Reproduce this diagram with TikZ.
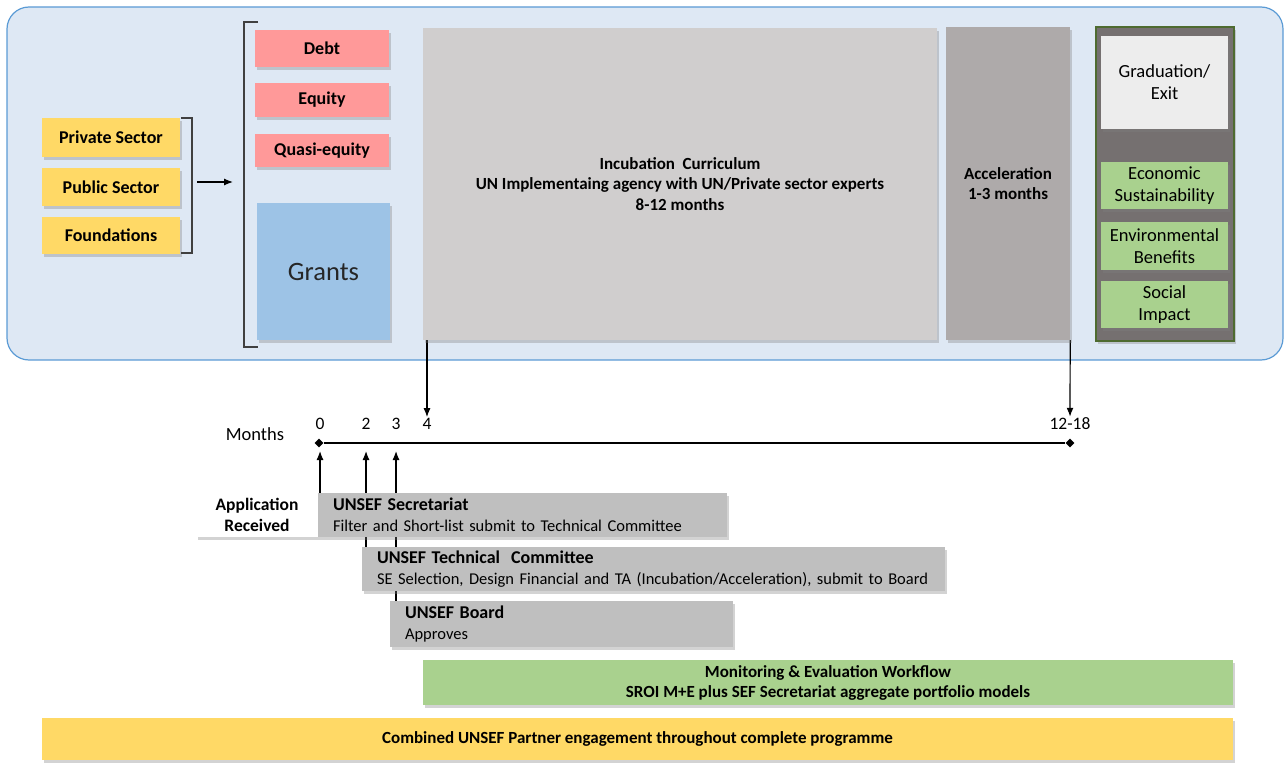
\documentclass[tikz,border=0pt]{standalone}
\usepackage{fontspec}
\setmainfont{Carlito}
\usetikzlibrary{arrows.meta}
\usetikzlibrary{shapes}
\usetikzlibrary{shadows}
\usetikzlibrary{calc}

\definecolor{panelblue}{HTML}{DEE8F4}
\definecolor{panelline}{HTML}{5B9BD5}
\definecolor{srcyellow}{HTML}{FFD966}
\definecolor{fundpink}{HTML}{FF9999}
\definecolor{grantblue}{HTML}{9DC3E6}
\definecolor{incgray}{HTML}{D0CECE}
\definecolor{accgray}{HTML}{AEAAAA}
\definecolor{outgray}{HTML}{757070}
\definecolor{outline}{HTML}{4E6B30}
\definecolor{gradgray}{HTML}{EDEDED}
\definecolor{impgreen}{HTML}{A9D18E}
\definecolor{stepgray}{HTML}{BFBFBF}

\pgfdeclarelayer{panel}
\pgfdeclarelayer{links}
\pgfsetlayers{panel,links,main}

\begin{document}
\begin{tikzpicture}[x=1pt, y=-1pt,
        box_style/.style={draw=none, inner sep=2pt, align=center,
            drop shadow={shadow xshift=2pt, shadow yshift=-3pt, opacity=0.35}},
        source_style/.style={box_style, fill=srcyellow, minimum width=138pt, font=\fontsize{18}{20}\selectfont\bfseries},
        fund_style/.style={box_style, fill=fundpink, minimum width=134pt, font=\fontsize{18}{20}\selectfont\bfseries},
        stage_style/.style={box_style, font=\fontsize{17}{20.5}\selectfont\bfseries},
        outcome_style/.style={box_style, fill=impgreen, minimum width=127pt, minimum height=47pt, font=\fontsize{18.5}{22}\selectfont},
        step_style/.style={box_style, fill=stepgray, align=left, inner xsep=15pt, minimum height=44pt, font=\fontsize{16.5}{21}\selectfont},
        band_style/.style={box_style, font=\fontsize{17}{20}\selectfont\bfseries},
        tick_style/.style={font=\fontsize{17.5}{19}\selectfont, inner sep=1pt},
        mark_style/.style={diamond, fill=black, inner sep=0pt, minimum size=9pt},
        bracket_style/.style={draw=black!75, line width=1.4pt},
        arrow_style/.style={draw=black, line width=1.2pt, -{Latex[length=9pt,width=7pt]}}]

        \useasboundingbox (0,0) rectangle (1285,765);

        % top panel
        \begin{pgfonlayer}{panel}
        \draw [fill=panelblue, draw=panelline, line width=1.2pt, rounded corners=22pt] (7,7) rectangle (1283,360);
        \end{pgfonlayer}

        % sources of capital
        \node [source_style, minimum height=39pt](private) at (111,137.5) {Private Sector};
        \node [source_style, minimum height=38pt](public) at (111,187) {Public Sector};
        \node [source_style, minimum height=37pt](found) at (111,235.5) {Foundations};
        \draw [bracket_style] (181,118) -- (192,118) -- (192,253) -- (181,253);
        \coordinate (src) at (197,182);
        \coordinate (dst) at (233,182);
        \draw [arrow_style] (src) -- (dst);

        % instruments
        \draw [bracket_style] (258,22) -- (244,22) -- (244,347) -- (258,347);
        \node [fund_style, minimum height=37pt](debt) at (322,48.5) {Debt};
        \node [fund_style, minimum height=34pt](equity) at (322,100) {Equity};
        \node [fund_style, minimum height=33pt](quasi) at (322,150.5) {Quasi-equity};
        \node [box_style, fill=grantblue, minimum width=133pt, minimum height=137pt, font=\fontsize{26.5}{30}\selectfont, text=black!85](grants) at (323.5,271.5) {Grants};

        % programme stages
        \node [stage_style, fill=incgray, minimum width=514pt, minimum height=312pt](inc) at (680,184)
            {Incubation\ \ Curriculum\\UN Implementaing\ agency with UN/Private sector experts\\8-12 months};
        \node [stage_style, fill=accgray, minimum width=124pt, minimum height=313pt](acc) at (1008,183.5)
            {Acceleration\\1-3 months};

        % outcomes
        \node [box_style, fill=outgray, draw=outline, line width=1.5pt, minimum width=138pt, minimum height=314pt](outc) at (1165,184) {};
        \node [outcome_style, fill=gradgray, minimum height=93pt](grad) at (1164.5,82.5) {Graduation/\\Exit};
        \node [outcome_style](econ) at (1164.5,185.5) {Economic\\Sustainability};
        \node [outcome_style, minimum height=48pt](env) at (1164.5,246) {Environmental\\Benefits};
        \node [outcome_style](social) at (1164.5,304.5) {Social\\Impact};

        % timeline
        \node [font=\fontsize{18.5}{20}\selectfont](months) at (255,434) {Months};
        \node [tick_style](m0) at (320,424) {0};
        \node [tick_style](m2) at (366,424) {2};
        \node [tick_style](m3) at (396,424) {3};
        \node [tick_style](m4) at (427,424) {4};
        \node [tick_style](m12) at (1070,424) {12-18};
        \node [mark_style](t0) at (319,443) {};
        \node [mark_style](t1) at (1070,443) {};
        \draw [line width=2pt] (t0) -- (t1);

        % application steps
        \node [box_style, fill=white, minimum width=122pt, minimum height=44pt, font=\fontsize{17.5}{21}\selectfont\bfseries](app) at (257,515) {Application\\Received};
        \node [step_style, text width=379pt](sec) at (522.5,515)
            {{\fontsize{18}{21}\selectfont\bfseries UNSEF Secretariat}\\Filter and Short-list submit to Technical Committee};
        \node [step_style, text width=553pt](tech) at (653.5,569)
            {{\fontsize{18}{21}\selectfont\bfseries UNSEF Technical\ \ Committee}\\SE Selection, Design Financial and TA (Incubation/Acceleration), submit to Board};
        \node [step_style, text width=313pt, minimum height=46pt](board) at (561.5,624)
            {{\fontsize{18}{21}\selectfont\bfseries UNSEF Board}\\Approves};

        % bands
        \node [band_style, fill=impgreen, minimum width=810pt, minimum height=45pt](me) at (828,682.5)
            {Monitoring \& Evaluation Workflow\\SROI M+E plus\ SEF Secretariat aggregate portfolio\ models};
        \node [band_style, fill=srcyellow, minimum width=1191pt, minimum height=42pt](comb) at (637.5,739)
            {Combined\ UNSEF Partner engagement throughout\ complete programme};

        % connectors
        \begin{pgfonlayer}{links}
        \draw [arrow_style] (m4 |- inc.south) -- (m4.north);
        \draw [arrow_style] (acc.south east) -- (m12.north);
        \draw [arrow_style, shorten >=8pt] (m0 |- sec.north) -- (m0 |- t0);
        \draw [arrow_style, shorten >=8pt] (m2 |- tech.north) -- (m2 |- t0);
        \draw [arrow_style, shorten >=8pt] (m3 |- board.north) -- (m3 |- t0);
        \end{pgfonlayer}
        \end{tikzpicture}
\end{document}
